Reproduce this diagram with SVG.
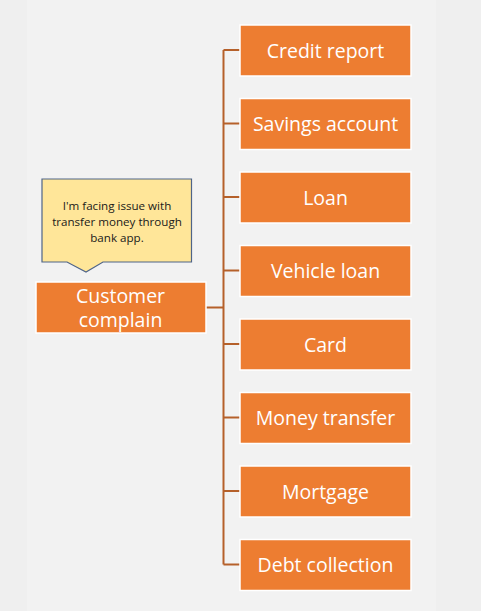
<svg xmlns="http://www.w3.org/2000/svg" width="481" height="611" viewBox="0 0 481 611">
<style>
.box{fill:#ed7d31;stroke:#ffffff;stroke-width:1.5}
.lbl{font-family:"Open Sans","Liberation Sans",sans-serif;font-size:19.5px;fill:#ffffff;text-anchor:middle;dominant-baseline:central}
.conn{stroke:#b5602a;stroke-width:2;fill:none}
.note{font-family:"Open Sans","Liberation Sans",sans-serif;font-size:11.6px;fill:#1a1a1a;text-anchor:middle;dominant-baseline:central}
</style>
<rect x="0" y="0" width="481" height="611" fill="#efefef"/>
<rect x="27" y="0" width="409" height="611" fill="#f2f2f2"/>
<g id="connectors">
<path class="conn" d="M206 307.5H223.5M223.5 50V564.5M223.5 50H240M223.5 123.5H240M223.5 197H240M223.5 270.5H240M223.5 344H240M223.5 417.5H240M223.5 491H240M223.5 564.5H240"/>
</g>
<g id="callout">
<path d="M42 179H191.5V262H103L86 272L67 262H42Z" fill="#ffe699" stroke="#4f6488" stroke-width="1.2"/>
<text class="note" x="117" y="205">I'm facing issue with</text>
<text class="note" x="117" y="221.5">transfer money through</text>
<text class="note" x="117" y="237.5">bank app.</text>
</g>
<g id="customer">
<rect class="box" x="36" y="282" width="170" height="51"/>
<text class="lbl" x="120.5" y="295">Customer</text>
<text class="lbl" x="120.5" y="319.5">complain</text>
</g>
<g id="n1"><rect class="box" x="240" y="25" width="171" height="51"/><text class="lbl" x="325.5" y="50">Credit report</text></g>
<g id="n2"><rect class="box" x="240" y="98.5" width="171" height="51"/><text class="lbl" x="325.5" y="123.5">Savings account</text></g>
<g id="n3"><rect class="box" x="240" y="172" width="171" height="51"/><text class="lbl" x="325.5" y="197">Loan</text></g>
<g id="n4"><rect class="box" x="240" y="245.5" width="171" height="51"/><text class="lbl" x="325.5" y="270.5">Vehicle loan</text></g>
<g id="n5"><rect class="box" x="240" y="319" width="171" height="51"/><text class="lbl" x="325.5" y="344">Card</text></g>
<g id="n6"><rect class="box" x="240" y="392.5" width="171" height="51"/><text class="lbl" x="325.5" y="417.5">Money transfer</text></g>
<g id="n7"><rect class="box" x="240" y="466" width="171" height="51"/><text class="lbl" x="325.5" y="491">Mortgage</text></g>
<g id="n8"><rect class="box" x="240" y="539.5" width="171" height="51"/><text class="lbl" x="325.5" y="564.5">Debt collection</text></g>
</svg>
